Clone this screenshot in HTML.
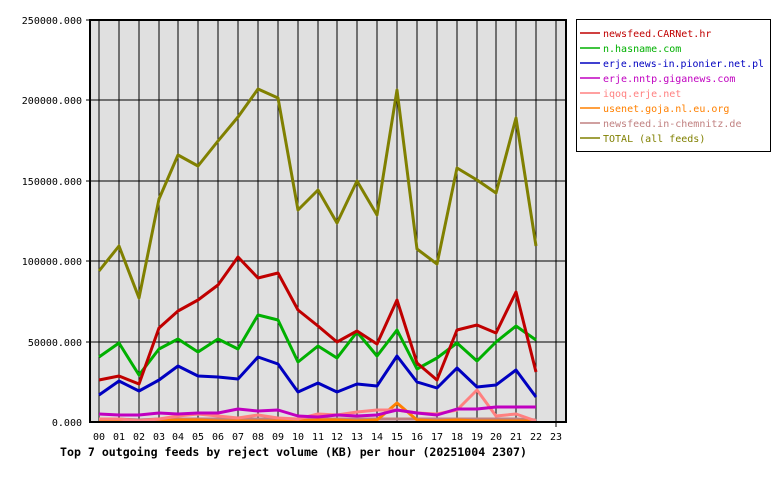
<!DOCTYPE html>
<html><head><style>body{margin:0;background:#fff}svg{display:block}text{font-family:"DejaVu Sans Mono","Liberation Mono",monospace;font-size:10px}</style></head><body>
<svg width="780" height="480" xmlns="http://www.w3.org/2000/svg">
<rect x="90" y="20" width="476" height="402" fill="#e0e0e0"/>
<g stroke="#000" stroke-width="1">
<line x1="99" y1="20" x2="99" y2="422"/><line x1="119" y1="20" x2="119" y2="422"/><line x1="139" y1="20" x2="139" y2="422"/><line x1="159" y1="20" x2="159" y2="422"/><line x1="178" y1="20" x2="178" y2="422"/><line x1="198" y1="20" x2="198" y2="422"/><line x1="218" y1="20" x2="218" y2="422"/><line x1="238" y1="20" x2="238" y2="422"/><line x1="258" y1="20" x2="258" y2="422"/><line x1="278" y1="20" x2="278" y2="422"/><line x1="298" y1="20" x2="298" y2="422"/><line x1="318" y1="20" x2="318" y2="422"/><line x1="337" y1="20" x2="337" y2="422"/><line x1="357" y1="20" x2="357" y2="422"/><line x1="377" y1="20" x2="377" y2="422"/><line x1="397" y1="20" x2="397" y2="422"/><line x1="417" y1="20" x2="417" y2="422"/><line x1="437" y1="20" x2="437" y2="422"/><line x1="457" y1="20" x2="457" y2="422"/><line x1="477" y1="20" x2="477" y2="422"/><line x1="496" y1="20" x2="496" y2="422"/><line x1="516" y1="20" x2="516" y2="422"/><line x1="536" y1="20" x2="536" y2="422"/><line x1="556" y1="20" x2="556" y2="427"/>
<line x1="86" y1="20" x2="566" y2="20"/><line x1="86" y1="100" x2="566" y2="100"/><line x1="86" y1="181" x2="566" y2="181"/><line x1="86" y1="261" x2="566" y2="261"/><line x1="86" y1="342" x2="566" y2="342"/>
</g>
<g fill="none" stroke-width="3" stroke-linejoin="round">
<polyline stroke="#c08080" points="99,419 119,419 139,420 159,419 178,419 198,419 218,419 238,419 258,419 278,419 298,419 318,419 337,419 357,419 377,419 397,419 417,419 437,419 457,419 477,419 496,419 516,419 536,420"/>
<polyline stroke="#ff8000" points="99,421 119,421 139,421 159,421 178,420 198,420 218,421 238,421 258,421 278,421 298,421 318,420 337,420 357,421 377,420 397,403 417,420 437,421 457,420 477,421 496,421 516,421 536,421"/>
<polyline stroke="#ff8080" points="99,419 119,419 139,421 159,419 178,416 198,414 218,416 238,418 258,415 278,418 298,419 318,414 337,415 357,412 377,410 397,410 417,413 437,414 457,410 477,390 496,416 516,414 536,421"/>
<polyline stroke="#c000c0" points="99,414 119,415 139,415 159,413 178,414 198,413 218,413 238,409 258,411 278,410 298,416 318,417 337,415 357,416 377,415 397,410 417,413 437,415 457,409 477,409 496,407 516,407 536,407"/>
<polyline stroke="#0000c0" points="99,395 119,381 139,391 159,380 178,366 198,376 218,377 238,379 258,357 278,364 298,392 318,383 337,392 357,384 377,386 397,356 417,382 437,388 457,368 477,387 496,385 516,370 536,397"/>
<polyline stroke="#00b000" points="99,357 119,343 139,375 159,349 178,339 198,352 218,339 238,349 258,315 278,320 298,362 318,346 337,358 357,332 377,356 397,330 417,369 437,358 457,343 477,361 496,342 516,326 536,340"/>
<polyline stroke="#c00000" points="99,380 119,376 139,384 159,328 178,311 198,300 218,285 238,257 258,278 278,273 298,310 318,326 337,342 357,331 377,344 397,300 417,363 437,380 457,330 477,325 496,333 516,292 536,372"/>
<polyline stroke="#808000" points="99,271 119,246 139,298 159,199 178,155 198,166 218,141 238,117 258,89 278,98 298,210 318,190 337,223 357,181 377,215 397,90 417,249 437,264 457,168 477,180 496,193 516,118 536,246"/>
</g>
<rect x="90" y="20" width="476" height="402" fill="none" stroke="#000" stroke-width="2"/>
<g text-anchor="end" style="font-size:10.5px"><text x="82" y="24">250000.000</text><text x="82" y="104">200000.000</text><text x="82" y="185">150000.000</text><text x="82" y="265">100000.000</text><text x="82" y="346">50000.000</text><text x="82" y="426">0.000</text></g>
<g text-anchor="middle" style="font-size:11px"><text x="99" y="440">00</text><text x="119" y="440">01</text><text x="139" y="440">02</text><text x="159" y="440">03</text><text x="178" y="440">04</text><text x="198" y="440">05</text><text x="218" y="440">06</text><text x="238" y="440">07</text><text x="258" y="440">08</text><text x="278" y="440">09</text><text x="298" y="440">10</text><text x="318" y="440">11</text><text x="337" y="440">12</text><text x="357" y="440">13</text><text x="377" y="440">14</text><text x="397" y="440">15</text><text x="417" y="440">16</text><text x="437" y="440">17</text><text x="457" y="440">18</text><text x="477" y="440">19</text><text x="496" y="440">20</text><text x="516" y="440">21</text><text x="536" y="440">22</text><text x="556" y="440">23</text></g>
<text x="60" y="456" font-weight="bold" style="font-size:11.5px" textLength="467" lengthAdjust="spacingAndGlyphs">Top 7 outgoing feeds by reject volume (KB) per hour (20251004 2307)</text>
<rect x="576.5" y="19.5" width="194" height="132" fill="#fff" stroke="#000"/>
<g stroke-width="1.5" style="font-size:10.5px">
<line x1="580" y1="33" x2="600" y2="33" stroke="#c00000"/><text x="603" y="37" fill="#c00000">newsfeed.CARNet.hr</text>
<line x1="580" y1="48" x2="600" y2="48" stroke="#00b000"/><text x="603" y="52" fill="#00b000">n.hasname.com</text>
<line x1="580" y1="63" x2="600" y2="63" stroke="#0000c0"/><text x="603" y="67" fill="#0000c0" textLength="161" lengthAdjust="spacingAndGlyphs">erje.news-in.pionier.net.pl</text>
<line x1="580" y1="78" x2="600" y2="78" stroke="#c000c0"/><text x="603" y="82" fill="#c000c0">erje.nntp.giganews.com</text>
<line x1="580" y1="93" x2="600" y2="93" stroke="#ff8080"/><text x="603" y="97" fill="#ff8080">iqoq.erje.net</text>
<line x1="580" y1="108" x2="600" y2="108" stroke="#ff8000"/><text x="603" y="112" fill="#ff8000">usenet.goja.nl.eu.org</text>
<line x1="580" y1="123" x2="600" y2="123" stroke="#c08080"/><text x="603" y="127" fill="#c08080">newsfeed.in-chemnitz.de</text>
<line x1="580" y1="138" x2="600" y2="138" stroke="#808000"/><text x="603" y="142" fill="#808000">TOTAL (all feeds)</text>
</g>
</svg>
</body></html>
